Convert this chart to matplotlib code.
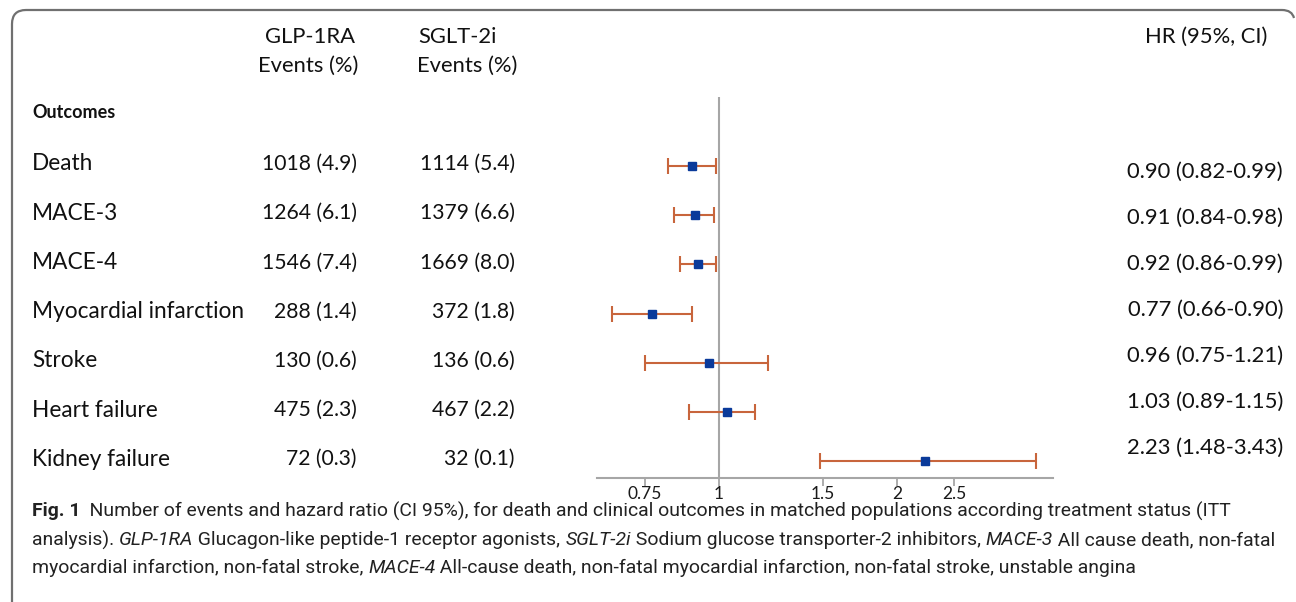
import matplotlib.pyplot as plt
import numpy as np
from matplotlib.path import Path
from matplotlib.patches import PathPatch
from matplotlib.transforms import blended_transform_factory

W, H = 1296, 602

outcomes = ["Death", "MACE-3", "MACE-4", "Myocardial infarction", "Stroke",
            "Heart failure", "Kidney failure"]
glp_events = ["1018 (4.9)", "1264 (6.1)", "1546 (7.4)", "288 (1.4)", "130 (0.6)",
              "475 (2.3)", "72 (0.3)"]
sglt_events = ["1114 (5.4)", "1379 (6.6)", "1669 (8.0)", "372 (1.8)", "136 (0.6)",
               "467 (2.2)", "32 (0.1)"]
hr = np.array([0.90, 0.91, 0.92, 0.77, 0.96, 1.03, 2.23])
ci_low = np.array([0.82, 0.84, 0.86, 0.66, 0.75, 0.89, 1.48])
ci_high = np.array([0.99, 0.98, 0.99, 0.90, 1.21, 1.15, 3.43])
hr_labels = ["0.90 (0.82-0.99)", "0.91 (0.84-0.98)", "0.92 (0.86-0.99)",
             "0.77 (0.66-0.90)", "0.96 (0.75-1.21)", "1.03 (0.89-1.15)",
             "2.23 (1.48-3.43)"]
x_ticks = [0.75, 1, 1.5, 2, 2.5]
x_tick_labels = ["0.75", "1", "1.5", "2", "2.5"]

FONT = ["Lato", "DejaVu Sans"]
CAP_FONT = ["Roboto", "DejaVu Sans"]
plt.rcParams["font.family"] = FONT
TXT = "#111111"


def fx(x):
    return x / W


def fy(y):
    return 1 - y / H


fig = plt.figure(figsize=(W / 100, H / 100), dpi=100)

# forest plot axes (log scale, ~257 px per ln unit, 1 at x=719)
ax = fig.add_axes([fx(597), fy(478), fx(1053) - fx(597), fy(97) - fy(478)])
ax.set_xscale("log")
ax.set_xlim(np.exp((597 - 719) / 257), np.exp((1053 - 719) / 257))
ax.set_ylim(6.34, -1.40)
rows = np.arange(len(outcomes))

ax.axvline(1, color="#A6A6A6", lw=1.5, zorder=1)
ax.errorbar(hr, rows, xerr=[hr - ci_low, ci_high - hr], fmt="s",
            color="#0A3A9A", ecolor="#C8653C", elinewidth=1.5, capsize=5.5,
            capthick=1.5, markersize=5.5, zorder=3)

for s in ["top", "right", "left"]:
    ax.spines[s].set_visible(False)
ax.spines["bottom"].set_color("#A6A6A6")
ax.spines["bottom"].set_linewidth(1.5)
ax.set_xticks(x_ticks)
ax.set_xticklabels(x_tick_labels)
ax.xaxis.set_minor_locator(plt.NullLocator())
ax.tick_params(axis="x", length=6, width=1.3, color="#A6A6A6", labelsize=12.5,
               pad=0, labelcolor="#1A1A1A")
ax.set_yticks([])
ax.patch.set_alpha(0)

# table text
tr = blended_transform_factory(fig.transFigure, ax.transData)
for i in rows:
    ax.text(fx(32), i - 0.04, outcomes[i], transform=tr, ha="left", va="center",
            fontsize=16.3, color=TXT)
    ax.text(fx(357), i - 0.04, glp_events[i], transform=tr, ha="right",
            va="center", fontsize=15.2, color=TXT)
    ax.text(fx(515), i - 0.04, sglt_events[i], transform=tr, ha="right",
            va="center", fontsize=15.2, color=TXT)
    fig.text(fx(1283), fy(172 + 46 * i), hr_labels[i], ha="right", va="center",
             fontsize=15.8, color=TXT)

fig.text(fx(310), fy(37), "GLP-1RA", ha="center", va="center", fontsize=15.8, color=TXT)
fig.text(fx(308), fy(66), "Events (%)", ha="center", va="center", fontsize=15.8, color=TXT)
fig.text(fx(457), fy(37), "SGLT-2i", ha="center", va="center", fontsize=15.8, color=TXT)
fig.text(fx(467), fy(66), "Events (%)", ha="center", va="center", fontsize=15.8, color=TXT)
fig.text(fx(1267), fy(37), "HR (95%, CI)", ha="right", va="center", fontsize=15.8,
         color=TXT)
fig.text(fx(32), fy(113), "Outcomes", ha="left", va="center", fontsize=13,
         fontweight="bold", color=TXT)

# border (top + left with rounded corners)
verts = [(12, 620), (12, 24), (12, 10), (26, 10), (1282, 10), (1292, 10), (1294, 18)]
codes = [Path.MOVETO, Path.LINETO, Path.CURVE3, Path.CURVE3, Path.LINETO,
         Path.CURVE3, Path.CURVE3]
path = Path([(fx(x), fy(y)) for x, y in verts], codes)
fig.patches.append(PathPatch(path, fill=False, edgecolor="#707070", lw=1.6,
                             transform=fig.transFigure))

# caption with mixed styles
caption = [
    [("Fig. 1", "bold", "normal"),
     ("  Number of events and hazard ratio (CI 95%), for death and clinical outcomes "
      "in matched populations according treatment status (ITT", "normal", "normal")],
    [("analysis). ", "normal", "normal"), ("GLP-1RA", "normal", "italic"),
     (" Glucagon-like peptide-1 receptor agonists, ", "normal", "normal"),
     ("SGLT-2i", "normal", "italic"),
     (" Sodium glucose transporter-2 inhibitors, ", "normal", "normal"),
     ("MACE-3", "normal", "italic"), (" All cause death, non-fatal", "normal", "normal")],
    [("myocardial infarction, non-fatal stroke, ", "normal", "normal"),
     ("MACE-4", "normal", "italic"),
     (" All-cause death, non-fatal myocardial infarction, non-fatal stroke, "
      "unstable angina", "normal", "normal")],
]
cap_y = [511, 540, 568]
renderer = fig.canvas.get_renderer()


def draw_line(parts, y, size, draw=True):
    x = 32
    made = []
    for txt, weight, style in parts:
        t = fig.text(fx(x), fy(y), txt, ha="left", va="center", fontsize=size,
                     fontweight=weight, fontstyle=style, family=CAP_FONT,
                     color="#222222")
        x += t.get_window_extent(renderer).width
        made.append(t)
    if not draw:
        for t in made:
            t.remove()
    return x - 32


# fit caption size so the widest line spans ~1240 px
size = 12
w = max(draw_line(p, 0, size, draw=False) for p in caption)
size = size * 1240 / w
for parts, y in zip(caption, cap_y):
    draw_line(parts, y, size)

fig.savefig("out.png", dpi=100)
